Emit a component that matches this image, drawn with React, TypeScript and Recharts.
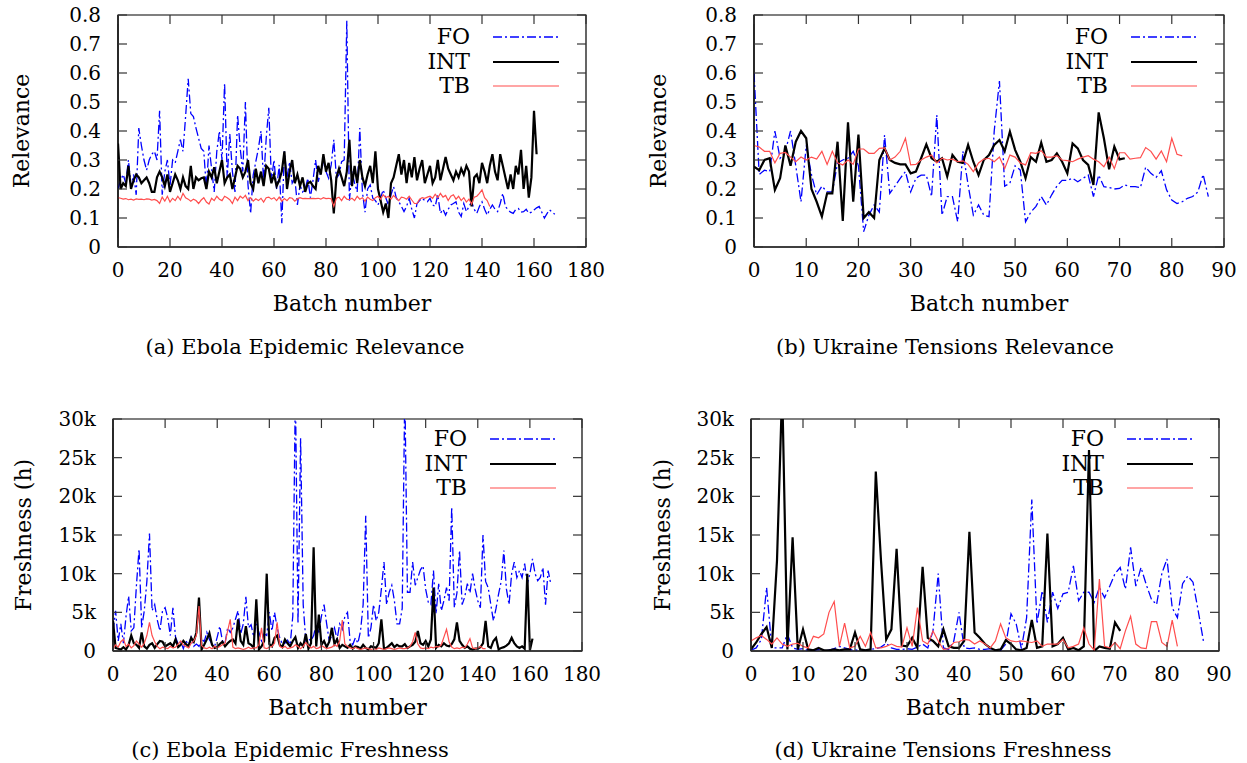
import { LineChart, Line, XAxis, YAxis, Legend, Label, ReferenceArea } from "recharts";

const FONT = '"DejaVu Serif", serif';

// (a) Ebola Epidemic Relevance
const ebolaRelFO = [
  0.2, 0.23, 0.25, 0.22, 0.3, 0.21, 0.25, 0.18, 0.41, 0.35,
  0.3, 0.265, 0.3, 0.32, 0.33, 0.3, 0.47, 0.18, 0.26, 0.3,
  0.21, 0.3, 0.29, 0.33, 0.37, 0.33, 0.45, 0.58, 0.46, 0.45,
  0.41, 0.375, 0.34, 0.33, 0.2, 0.35, 0.27, 0.19, 0.33, 0.4,
  0.3, 0.565, 0.24, 0.39, 0.26, 0.19, 0.455, 0.34, 0.26, 0.5,
  0.214, 0.116, 0.248, 0.294, 0.34, 0.4, 0.225, 0.375, 0.48, 0.23,
  0.3, 0.2, 0.283, 0.082, 0.33, 0.24, 0.294, 0.22, 0.237, 0.145,
  0.214, 0.19, 0.2, 0.237, 0.17, 0.23, 0.3, 0.225, 0.26, 0.294,
  0.26, 0.237, 0.283, 0.37, 0.237, 0.25, 0.294, 0.3, 0.78, 0.16,
  0.26, 0.22, 0.19, 0.41, 0.19, 0.12, 0.2, 0.214, 0.168, 0.16,
  0.145, 0.17, 0.197, 0.17, 0.145, 0.18, 0.208, 0.17, 0.156, 0.14,
  0.122, 0.14, 0.168, 0.13, 0.1, 0.15, 0.16, 0.168, 0.16, 0.156,
  0.168, 0.145, 0.14, 0.18, 0.116, 0.13, 0.11, 0.13, 0.145, 0.15,
  0.156, 0.12, 0.105, 0.15, 0.122, 0.14, 0.156, 0.13, 0.116, 0.14,
  0.156, 0.13, 0.11, 0.13, 0.145, 0.13, 0.122, 0.15, 0.185, 0.14,
  0.128, 0.12, 0.116, 0.13, 0.133, 0.12, 0.122, 0.13, 0.116, 0.12,
  0.128, 0.135, 0.14, 0.12, 0.1, 0.115, 0.128, 0.12, 0.113,
];
const ebolaRelINT = [
  0.357, 0.2, 0.22, 0.21, 0.28, 0.2, 0.23, 0.25, 0.24, 0.22,
  0.23, 0.24, 0.22, 0.19, 0.19, 0.24, 0.26, 0.24, 0.21, 0.25,
  0.19, 0.22, 0.25, 0.23, 0.2, 0.24, 0.21, 0.2, 0.28, 0.2,
  0.24, 0.23, 0.237, 0.24, 0.2, 0.26, 0.24, 0.275, 0.22, 0.26,
  0.3, 0.22, 0.24, 0.25, 0.2, 0.24, 0.28, 0.27, 0.24, 0.26,
  0.3, 0.22, 0.2, 0.27, 0.22, 0.26, 0.21, 0.28, 0.27, 0.22,
  0.25, 0.21, 0.23, 0.26, 0.33, 0.2, 0.26, 0.3, 0.22, 0.25,
  0.21, 0.24, 0.19, 0.22, 0.225, 0.21, 0.2, 0.28, 0.25, 0.32,
  0.26, 0.29, 0.23, 0.116, 0.24, 0.27, 0.24, 0.21, 0.26, 0.37,
  0.21, 0.28, 0.22, 0.3, 0.24, 0.21, 0.25, 0.28, 0.22, 0.33,
  0.2, 0.16, 0.12, 0.15, 0.1, 0.22, 0.24, 0.28, 0.32, 0.25,
  0.3, 0.22, 0.29, 0.24, 0.31, 0.23, 0.27, 0.3, 0.22, 0.25,
  0.28, 0.22, 0.24, 0.3, 0.23, 0.27, 0.31, 0.27, 0.25, 0.23,
  0.26, 0.24, 0.27, 0.25, 0.28, 0.26, 0.14, 0.24, 0.25, 0.22,
  0.29, 0.26, 0.22, 0.28, 0.32, 0.26, 0.23, 0.32, 0.28, 0.24,
  0.2, 0.25, 0.2, 0.28, 0.25, 0.335, 0.2, 0.28, 0.17, 0.24,
  0.47, 0.32,
];
const ebolaRelTB = [
  0.17, 0.168, 0.165, 0.167, 0.163, 0.165, 0.162, 0.166, 0.164, 0.165,
  0.163, 0.166, 0.165, 0.162, 0.164, 0.16, 0.15, 0.172, 0.158, 0.175,
  0.155, 0.168, 0.16, 0.175, 0.162, 0.185, 0.17, 0.165, 0.158, 0.165,
  0.16, 0.15, 0.162, 0.17, 0.155, 0.148, 0.168, 0.16, 0.175, 0.165,
  0.16, 0.175, 0.17, 0.163, 0.15, 0.172, 0.16, 0.175, 0.168, 0.178,
  0.16, 0.17, 0.158, 0.166, 0.16, 0.168, 0.155, 0.17, 0.172, 0.165,
  0.17, 0.16, 0.172, 0.158, 0.167, 0.16, 0.17, 0.168, 0.158, 0.166,
  0.17, 0.167, 0.168, 0.167, 0.167, 0.168, 0.167, 0.168, 0.165, 0.17,
  0.167, 0.168, 0.166, 0.14, 0.168, 0.172, 0.16, 0.175, 0.165, 0.163,
  0.168, 0.16, 0.175, 0.165, 0.17, 0.158, 0.172, 0.165, 0.16, 0.17,
  0.175, 0.165, 0.18, 0.17, 0.175, 0.165, 0.178, 0.168, 0.16, 0.172,
  0.17, 0.165, 0.175, 0.162, 0.15, 0.15, 0.165, 0.17, 0.168, 0.172,
  0.175, 0.168, 0.182, 0.17, 0.185, 0.172, 0.178, 0.16, 0.175, 0.18,
  0.165, 0.175, 0.16, 0.17, 0.155, 0.165, 0.148, 0.172, 0.175, 0.185,
  0.197, 0.17, 0.16, 0.14,
];

// (b) Ukraine Tensions Relevance
const ukraineRelFO = [
  0.6, 0.25, 0.265, 0.26, 0.4, 0.306, 0.33, 0.4, 0.28, 0.156,
  0.35, 0.25, 0.18, 0.21, 0.19, 0.19, 0.29, 0.3, 0.306, 0.33,
  0.28, 0.053, 0.11, 0.145, 0.12, 0.386, 0.185, 0.21, 0.237, 0.26,
  0.19, 0.237, 0.248, 0.248, 0.174, 0.455, 0.11, 0.174, 0.174, 0.087,
  0.33, 0.214, 0.11, 0.145, 0.11, 0.105, 0.4, 0.572, 0.21, 0.22,
  0.28, 0.265, 0.087, 0.12, 0.14, 0.174, 0.145, 0.18, 0.21, 0.23,
  0.23, 0.237, 0.225, 0.237, 0.248, 0.174, 0.248, 0.208, 0.205, 0.2,
  0.202, 0.214, 0.208, 0.208, 0.205, 0.275, 0.254, 0.24, 0.263, 0.197,
  0.162, 0.15, 0.156, 0.168, 0.174, 0.19, 0.25, 0.174,
];
const ukraineRelINT = [
  0.277, 0.265, 0.3, 0.306, 0.197, 0.237, 0.35, 0.28, 0.363, 0.4,
  0.375, 0.2, 0.156, 0.105, 0.185, 0.185, 0.363, 0.09, 0.43, 0.156,
  0.388, 0.1, 0.12, 0.1, 0.3, 0.34, 0.3, 0.29, 0.285, 0.285,
  0.254, 0.26, 0.306, 0.354, 0.306, 0.294, 0.306, 0.243, 0.317, 0.294,
  0.29, 0.352, 0.294, 0.248, 0.3, 0.317, 0.352, 0.369, 0.33, 0.398,
  0.335, 0.294, 0.237, 0.31, 0.294, 0.36, 0.294, 0.3, 0.323, 0.294,
  0.254, 0.357, 0.34, 0.3, 0.283, 0.214, 0.464, 0.375, 0.268, 0.346,
  0.302, 0.306,
];
const ukraineRelTB = [
  0.35, 0.345, 0.33, 0.33, 0.29, 0.323, 0.326, 0.31, 0.294, 0.31,
  0.3, 0.31, 0.303, 0.33, 0.285, 0.33, 0.29, 0.283, 0.3, 0.285,
  0.338, 0.338, 0.323, 0.323, 0.34, 0.342, 0.3, 0.31, 0.33, 0.375,
  0.283, 0.285, 0.3, 0.31, 0.317, 0.29, 0.306, 0.3, 0.303, 0.294,
  0.297, 0.285, 0.26, 0.29, 0.303, 0.306, 0.294, 0.31, 0.27, 0.317,
  0.31, 0.29, 0.283, 0.325, 0.323, 0.332, 0.31, 0.31, 0.315, 0.3,
  0.298, 0.294, 0.303, 0.31, 0.315, 0.303, 0.294, 0.277, 0.31, 0.27,
  0.325, 0.325, 0.303, 0.306, 0.308, 0.343, 0.33, 0.303, 0.331, 0.294,
  0.375, 0.32, 0.314,
];

// (c) Ebola Epidemic Freshness, thousands of hours
const ebolaFreshFO = [
  2.5, 5.2, 1.3, 3.5, 1.0, 4.5, 7.1, 2.6, 3.0, 8.5,
  13.2, 3.0, 5.2, 9.0, 15.2, 5.2, 6.0, 4.0, 2.6, 5.2,
  5.6, 4.3, 2.0, 5.6, 1.8, 0.9, 1.2, 0.3, 1.3, 0.8,
  1.8, 0.6, 0.9, 0.6, 1.6, 1.2, 2.4, 1.5, 0.9, 0.6,
  1.8, 3.2, 1.3, 1.0, 3.0, 2.4, 3.0, 4.1, 5.2, 2.2,
  3.5, 7.0, 3.0, 3.4, 1.8, 3.5, 2.4, 1.3, 2.2, 2.0,
  5.0, 2.6, 5.0, 3.0, 1.7, 0.9, 1.0, 1.4, 0.8, 4.5,
  34, 3.5, 27.5, 6.0, 1.3, 1.6, 1.3, 2.0, 3.5, 2.4,
  4.5, 6.0, 3.5, 1.3, 2.0, 3.0, 1.5, 3.5, 2.8, 4.5,
  5.0, 1.3, 0.8, 1.7, 1.0, 2.6, 6.0, 17.5, 1.7, 3.0,
  6.0, 3.9, 5.0, 8.0, 11.5, 6.0, 7.6, 8.5, 6.5, 3.5,
  3.5, 5.5, 34, 7.6, 7.6, 11.5, 8.5, 9.5, 10.5, 11.0,
  8.0, 6.3, 6.0, 10.4, 4.8, 8.7, 5.2, 6.5, 8.2, 6.5,
  18.6, 5.6, 7.5, 13, 6.0, 7.0, 8.7, 7.5, 10, 8.0,
  6.5, 5.6, 15, 9.0, 8.2, 6.0, 3.9, 5.5, 7.4, 9.0,
  13, 8.0, 6.0, 10, 11.5, 9.5, 10.4, 9.5, 11.3, 8.7,
  10.0, 11.9, 10.0, 9.1, 9.5, 10.8, 6.0, 10.4, 8.7,
];
const ebolaFreshINT = [
  3.9, 0.4, 0.3, 0.2, 0.5, 0.2, 0.8, 2.0, 1.0, 0.8,
  0.4, 2.4, 0.6, 0.3, 0.8, 1.0, 0.4, 0.9, 1.3, 1.2,
  0.6, 0.8, 1.0, 0.6, 1.5, 0.5, 0.8, 1.3, 0.9, 0.6,
  1.7, 1.2, 2.4, 6.9, 0.2, 0.8, 1.5, 2.3, 0.8, 0.4,
  0.5, 0.9, 1.2, 0.6, 1.0, 1.3, 1.5, 1.0, 4.1, 1.3,
  0.8, 3.2, 1.0, 0.8, 0.4, 6.7, 0.2, 0.6, 1.3, 10,
  0.9, 0.6, 1.7, 2.0, 0.8, 0.5, 1.5, 1.0, 0.6, 1.3,
  1.8, 0.4, 1.0, 0.6, 2.2, 0.3, 1.0, 13.4, 0.6, 4.7,
  0.8, 1.3, 0.5, 1.2, 3.0, 0.9, 1.5, 0.4, 0.8, 0.6,
  0.4, 0.8, 0.3, 0.6, 0.5, 0.3, 0.8, 0.4, 0.2, 0.6,
  0.5, 0.4, 1.0, 4.1, 0.3, 0.4, 0.7, 1.0, 0.5, 0.8,
  0.6, 0.6, 0.9, 0.4, 0.6, 0.8, 1.2, 2.6, 1.0, 0.8,
  1.3, 0.6, 1.5, 8.2, 0.4, 0.8, 0.6, 1.0, 0.7, 0.6,
  0.9, 1.5, 3.7, 1.3, 0.8, 0.4, 0.6, 0.3, 0.2, 0.3,
  0.3, 0.5, 1.0, 3.9, 0.6, 0.4, 1.3, 1.7, 0.2, 0.4,
  0.5, 0.7, 1.0, 1.7, 1.0, 0.6, 0.4, 0.6, 0.3, 10,
  0.1, 1.6,
];
const ebolaFreshTB = [
  0.3, 0.8, 0.5, 1.2, 1.5, 0.6, 0.9, 0.4, 0.7, 1.3,
  0.9, 0.5, 1.0, 2.0, 3.7, 2.0, 1.2, 0.6, 0.3, 0.5,
  0.4, 0.3, 0.6, 0.4, 0.5, 0.9, 1.3, 0.8, 0.6, 0.4,
  1.0, 1.3, 2.0, 5.8, 0.7, 0.4, 0.3, 0.5, 0.3, 0.6,
  0.4, 0.6, 0.8, 1.0, 2.6, 4.1, 0.5, 0.3, 0.4, 0.3,
  0.2, 0.3, 0.5, 0.3, 0.4, 0.4, 0.8, 3.0, 0.4, 0.3,
  0.5, 0.6, 1.0, 3.7, 0.6, 0.4, 0.6, 0.3, 0.4, 0.5,
  0.8, 0.6, 0.3, 0.6, 1.1, 0.7, 0.4, 0.6, 0.3, 0.4,
  0.7, 0.5, 0.3, 0.4, 0.5, 0.8, 0.6, 1.3, 4.0, 0.9,
  0.6, 0.4, 0.3, 0.5, 0.3, 0.2, 0.3, 0.4, 0.3, 0.2,
  0.3, 0.2, 0.4, 0.3, 0.2, 0.3, 0.4, 0.3, 0.2, 0.3,
  0.4, 0.3, 0.3, 0.4, 0.6, 1.2, 2.4, 0.9, 0.4, 0.3,
  0.4, 0.3, 0.5, 0.4, 0.6, 0.5, 0.8, 1.8, 2.8, 1.2,
  0.5, 0.3, 0.4, 0.3, 0.5, 0.4, 0.9, 1.6, 0.4, 0.3,
  0.4, 0.6, 0.3, 0.3,
];

// (d) Ukraine Tensions Freshness, thousands of hours
const ukraineFreshFO = [
  0.1, 0.4, 1.5, 8.2, 0.4, 0.4, 0.4, 2.2, 0.4, 0.2,
  0.3, 0.1, 0.1, 0.2, 0.1, 0.1, 0.3, 0.6, 0.4, 0.2,
  0.1, 0.2, 0.1, 0.2, 0.3, 0.5, 1.0, 0.4, 0.2, 0.2,
  0.3, 0.2, 0.5, 0.9, 0.4, 2.6, 10.0, 0.4, 0.2, 1.3,
  5.0, 0.4, 0.3, 0.4, 0.2, 0.2, 0.3, 0.1, 0.1, 0.9,
  4.8, 3.5, 0.3, 4.3, 19.6, 3.5, 7.8, 3.7, 7.6, 5.5,
  7.4, 7.6, 11.0, 6.5, 7.6, 7.6, 6.3, 8.2, 6.9, 8.4,
  10.0, 10.8, 8.0, 13.4, 8.4, 10.8, 8.6, 6.7, 6.0, 10.0,
  11.9, 5.6, 4.3, 8.7, 9.7, 8.9, 5.2, 1.3,
];
const ukraineFreshINT = [
  0.2, 1.1, 2.2, 3.1, 0.4, 11.7, 34, 0.2, 14.7, 0.2,
  2.8, 0.2, 0.1, 0.4, 0.1, 0.1, 0.2, 0.1, 0.2, 0.2,
  2.4, 0.2, 0.1, 0.2, 23.2, 11.7, 1.5, 2.8, 13.2, 0.7,
  0.6, 1.7, 0.4, 10.9, 1.7, 1.3, 0.6, 2.8, 0.6, 0.4,
  0.4, 1.3, 15.4, 2.4, 1.7, 0.9, 0.4, 0.1, 0.2, 1.4,
  0.9, 0.2, 0.1, 0.4, 4.0, 0.4, 0.6, 15.2, 0.6, 0.9,
  1.7, 0.2, 0.4, 0.1, 0.6, 26, 0, 0.6, 0.4, 0.3,
  3.7, 2.6,
];
const ukraineFreshTB = [
  1.3, 1.7, 2.0, 1.5, 0.9, 1.7, 0.9, 0.6, 0.9, 1.0,
  0.6, 0.4, 1.9, 1.7, 2.2, 5.0, 6.4, 0.6, 3.6, 0.4,
  0.6, 1.9, 0.6, 2.4, 0.4, 0.4, 0.6, 0.9, 0.6, 0.5,
  3.0, 0.6, 5.6, 1.3, 0.9, 2.6, 1.3, 0.2, 0.3, 1.1,
  1.2, 1.5, 1.4, 0.9, 1.3, 0.9, 0.4, 1.3, 3.5, 1.7,
  1.3, 1.2, 1.3, 1.2, 1.1, 1.3, 0.6, 0.9, 0.9, 0.9,
  1.5, 0.4, 0.6, 0.9, 3.0, 0.9, 0.1, 9.3, 0.6, 0.4,
  1.1, 0.3, 2.6, 4.5, 0.9, 0.4, 0.3, 3.8, 3.8, 1.1,
  0.6, 4.0, 0.6,
];

const batchTicksEbola = [0, 20, 40, 60, 80, 100, 120, 140, 160, 180];
const batchTicksUkraine = [0, 10, 20, 30, 40, 50, 60, 70, 80, 90];
const relevanceTicks = [0, 0.1, 0.2, 0.3, 0.4, 0.5, 0.6, 0.7, 0.8];
const freshnessTicks = [0, 5, 10, 15, 20, 25, 30];

const SERIES = [
  { key: "fo", name: "FO", color: "#0000ff", width: 1.3, dash: "9 3 2 3" },
  { key: "int", name: "INT", color: "#000000", width: 2.2, dash: undefined },
  { key: "tb", name: "TB", color: "#ff4d4d", width: 1.2, dash: undefined },
];

function toRows(fo: number[], int: number[], tb: number[]) {
  const n = Math.max(fo.length, int.length, tb.length);
  return Array.from({ length: n }, (_, i) => ({
    batch: i,
    fo: fo[i],
    int: int[i],
    tb: tb[i],
  }));
}

const kFormat = (v: number) => (v === 0 ? "0" : `${v}k`);

const TICK_LEN = 9;
const TICK_GAP_X = 16; // label distance below the bottom axis
const TICK_GAP_Y = 17; // label distance left of the left axis
const TOP = 15;
const HEIGHT = 330;
const tickStroke = "#333";

function LegendBox() {
  return (
    <div style={{ fontFamily: FONT, fontSize: 22, color: "#000" }}>
      {SERIES.map((s) => (
        <div key={s.key} style={{ display: "flex", alignItems: "center", height: 24.5 }}>
          <span style={{ width: 70, textAlign: "right", lineHeight: "24px" }}>{s.name}</span>
          <svg width={92} height={10}>
            <line
              x1={23}
              x2={89}
              y1={5}
              y2={5}
              stroke={s.color}
              strokeWidth={s.width}
              strokeDasharray={s.dash}
            />
          </svg>
        </div>
      ))}
    </div>
  );
}

interface PanelProps {
  left: number;
  top: number;
  width: number;
  yAxisWidth: number;
  marginRight: number;
  data: ReturnType<typeof toRows>;
  xMax: number;
  xTicks: number[];
  yMax: number;
  yTicks: number[];
  yLabel: string;
  yLabelOffset: number;
  fmt?: (v: number) => string;
  legendLeft: number;
  legendTop: number;
}

function Panel(p: PanelProps) {
  const plotRight = p.width - p.marginRight;
  const fmt = p.fmt ?? ((v: number) => String(v));

  // bottom tick label plus inward tick marks on the bottom and top edges
  const xTick = (t: any) => {
    const axisY = t.y - TICK_GAP_X;
    return (
      <g>
        <line x1={t.x} x2={t.x} y1={axisY} y2={axisY - TICK_LEN} stroke={tickStroke} strokeWidth={1.2} />
        <line x1={t.x} x2={t.x} y1={TOP} y2={TOP + TICK_LEN} stroke={tickStroke} strokeWidth={1.2} />
        <text x={t.x} y={t.y} dy="0.71em" textAnchor="middle" fontSize={20} fill="#000">
          {t.payload.value}
        </text>
      </g>
    );
  };

  // left tick label plus inward tick marks on the left and right edges
  const yTick = (t: any) => {
    const axisX = t.x + TICK_GAP_Y;
    return (
      <g>
        <line x1={axisX} x2={axisX + TICK_LEN} y1={t.y} y2={t.y} stroke={tickStroke} strokeWidth={1.2} />
        <line x1={plotRight - TICK_LEN} x2={plotRight} y1={t.y} y2={t.y} stroke={tickStroke} strokeWidth={1.2} />
        <text x={t.x} y={t.y} dy="0.355em" textAnchor="end" fontSize={20} fill="#000">
          {fmt(t.payload.value)}
        </text>
      </g>
    );
  };

  return (
    <div style={{ position: "absolute", left: p.left, top: p.top }}>
      <LineChart
        width={p.width}
        height={HEIGHT}
        data={p.data}
        margin={{ top: TOP, right: p.marginRight, left: 0, bottom: 18 }}
      >
        <XAxis
          dataKey="batch"
          type="number"
          domain={[0, p.xMax]}
          ticks={p.xTicks}
          interval={0}
          allowDataOverflow
          height={65}
          tickSize={0}
          tickMargin={TICK_GAP_X}
          tickLine={false}
          axisLine={{ stroke: "#000", strokeWidth: 1.2 }}
          tick={xTick}
        >
          <Label
            value="Batch number"
            position="insideBottom"
            offset={1}
            style={{ fill: "#000", fontSize: 22 }}
          />
        </XAxis>
        <YAxis
          type="number"
          domain={[0, p.yMax]}
          ticks={p.yTicks}
          interval={0}
          allowDataOverflow
          width={p.yAxisWidth}
          tickSize={0}
          tickMargin={TICK_GAP_Y}
          tickLine={false}
          axisLine={{ stroke: "#000", strokeWidth: 1.2 }}
          tick={yTick}
        >
          <Label
            value={p.yLabel}
            angle={-90}
            position="insideLeft"
            offset={p.yLabelOffset}
            style={{ fill: "#000", fontSize: 22, textAnchor: "middle" }}
          />
        </YAxis>
        <Legend
          layout="vertical"
          align="center"
          verticalAlign="middle"
          content={() => <LegendBox />}
          wrapperStyle={{ left: p.legendLeft, top: p.legendTop, width: 170, margin: 0 }}
        />
        {SERIES.map((s) => (
          <Line
            key={s.key}
            dataKey={s.key}
            name={s.name}
            type="linear"
            stroke={s.color}
            strokeWidth={s.width}
            strokeDasharray={s.dash}
            dot={false}
            activeDot={false}
            isAnimationActive={false}
          />
        ))}
        {/* plot frame */}
        <ReferenceArea
          x1={0}
          x2={p.xMax}
          y1={0}
          y2={p.yMax}
          fill="none"
          fillOpacity={0}
          stroke="#000"
          strokeWidth={1.2}
          ifOverflow="visible"
        />
      </LineChart>
    </div>
  );
}

function Caption({ text, x, y }: { text: string; x: number; y: number }) {
  return (
    <div
      style={{
        position: "absolute",
        left: x - 250,
        top: y - 13,
        width: 500,
        textAlign: "center",
        fontSize: 21,
        lineHeight: "26px",
        color: "#000",
      }}
    >
      {text}
    </div>
  );
}

export default function App() {
  return (
    <div
      style={{
        position: "absolute",
        left: 0,
        top: 0,
        width: 1247,
        height: 763,
        overflow: "hidden",
        background: "#fff",
        fontFamily: FONT,
      }}
    >
      <Panel
        left={0}
        top={0}
        width={620}
        yAxisWidth={118}
        marginRight={34}
        data={toRows(ebolaRelFO, ebolaRelINT, ebolaRelTB)}
        xMax={180}
        xTicks={batchTicksEbola}
        yMax={0.8}
        yTicks={relevanceTicks}
        yLabel="Relevance"
        yLabelOffset={21}
        legendLeft={400}
        legendTop={25}
      />
      <Panel
        left={636}
        top={0}
        width={611}
        yAxisWidth={118}
        marginRight={23}
        data={toRows(ukraineRelFO, ukraineRelINT, ukraineRelTB)}
        xMax={90}
        xTicks={batchTicksUkraine}
        yMax={0.8}
        yTicks={relevanceTicks}
        yLabel="Relevance"
        yLabelOffset={22}
        legendLeft={402}
        legendTop={25}
      />
      <Panel
        left={0}
        top={404}
        width={620}
        yAxisWidth={113}
        marginRight={38}
        data={toRows(ebolaFreshFO, ebolaFreshINT, ebolaFreshTB)}
        xMax={180}
        xTicks={batchTicksEbola}
        yMax={30}
        yTicks={freshnessTicks}
        yLabel="Freshness (h)"
        yLabelOffset={23}
        fmt={kFormat}
        legendLeft={397}
        legendTop={23}
      />
      <Panel
        left={636}
        top={404}
        width={611}
        yAxisWidth={115}
        marginRight={28}
        data={toRows(ukraineFreshFO, ukraineFreshINT, ukraineFreshTB)}
        xMax={90}
        xTicks={batchTicksUkraine}
        yMax={30}
        yTicks={freshnessTicks}
        yLabel="Freshness (h)"
        yLabelOffset={26}
        fmt={kFormat}
        legendLeft={398}
        legendTop={23}
      />
      <Caption text="(a) Ebola Epidemic Relevance" x={305} y={347} />
      <Caption text="(b) Ukraine Tensions Relevance" x={945} y={347} />
      <Caption text="(c) Ebola Epidemic Freshness" x={290} y={750} />
      <Caption text="(d) Ukraine Tensions Freshness" x={943} y={750} />
    </div>
  );
}
